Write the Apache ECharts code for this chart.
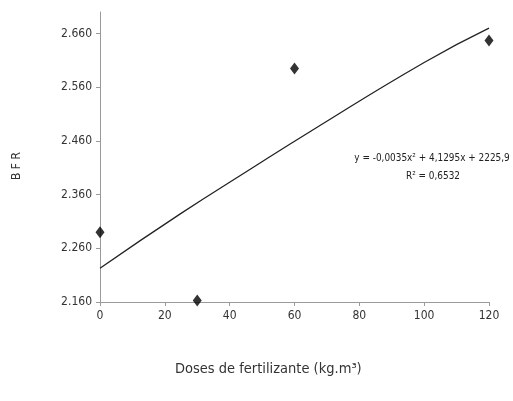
<!DOCTYPE html>
<html><head><meta charset="utf-8">
<script src="https://cdn.jsdelivr.net/npm/echarts@6/dist/echarts.min.js"></script>
<style>html,body{margin:0;padding:0;background:#fff}#c{width:513px;height:401px}</style>
</head><body><div id="c"></div>
<script>
const doses = [0, 30, 60, 120];
const bfr = [2290, 2163, 2595, 2647];
const trendX = [0, 25, 45, 65, 100, 120];
const trendY = [2223, 2325, 2402, 2478, 2606, 2670];
const yTicks = [2160, 2260, 2360, 2460, 2560, 2660];
const xTicks = [0, 20, 40, 60, 80, 100, 120];
const equation = 'y = -0,0035x² + 4,1295x + 2225,9';
const r2 = 'R² = 0,6532';
const xName = 'Doses de fertilizante (kg.m³)';
const yName = 'B F R';

const FONT = '"DejaVu Sans Condensed", "Liberation Sans", sans-serif';
const chart = echarts.init(document.getElementById('c'));
const fmt = v => { const s = String(Math.round(v)); return s.slice(0, 1) + '.' + s.slice(1); };
chart.setOption({
  animation: false,
  grid: { left: 100, right: 24, top: 12, bottom: 99 },
  xAxis: {
    type: 'value', min: 0, max: 120, interval: 20,
    axisLine: { lineStyle: { color: '#9a9a9a', width: 1 } },
    axisTick: { show: true, length: 4, lineStyle: { color: '#9a9a9a' } },
    axisLabel: { color: '#333', fontFamily: FONT, fontSize: 12, margin: 8 },
    splitLine: { show: false }
  },
  yAxis: {
    type: 'value', min: 2160, max: 2700, interval: 100,
    axisLine: { show: true, lineStyle: { color: '#9a9a9a', width: 1 } },
    axisTick: { show: true, length: 4, lineStyle: { color: '#9a9a9a' }, customValues: yTicks },
    axisLabel: { color: '#333', fontFamily: FONT, fontSize: 12, margin: 8, customValues: yTicks, formatter: fmt },
    splitLine: { show: false }
  },
  graphic: [
    { type: 'text', left: 175, top: 362, style: { text: xName, fill: '#333', font: '14.5px ' + FONT } },
    { type: 'text', x: 17, y: 166, rotation: Math.PI / 2, style: { text: yName, fill: '#333', font: '12px ' + FONT, align: 'center', verticalAlign: 'middle' } },
    { type: 'text', x: 432, y: 158, scaleX: 0.9, style: { text: equation, fill: '#222', font: '11px ' + FONT, align: 'center', verticalAlign: 'middle' } },
    { type: 'text', x: 433, y: 176, scaleX: 0.9, style: { text: r2, fill: '#222', font: '11px ' + FONT, align: 'center', verticalAlign: 'middle' } }
  ],
  series: [
    {
      type: 'line', data: trendX.map((x, i) => [x, trendY[i]]), smooth: true,
      symbol: 'none', lineStyle: { color: '#222', width: 1.3 }, z: 2
    },
    {
      type: 'scatter', data: doses.map((x, i) => [x, bfr[i]]),
      symbol: 'diamond', symbolSize: [9, 12], itemStyle: { color: '#000' }, z: 3
    }
  ]
});
</script></body></html>
